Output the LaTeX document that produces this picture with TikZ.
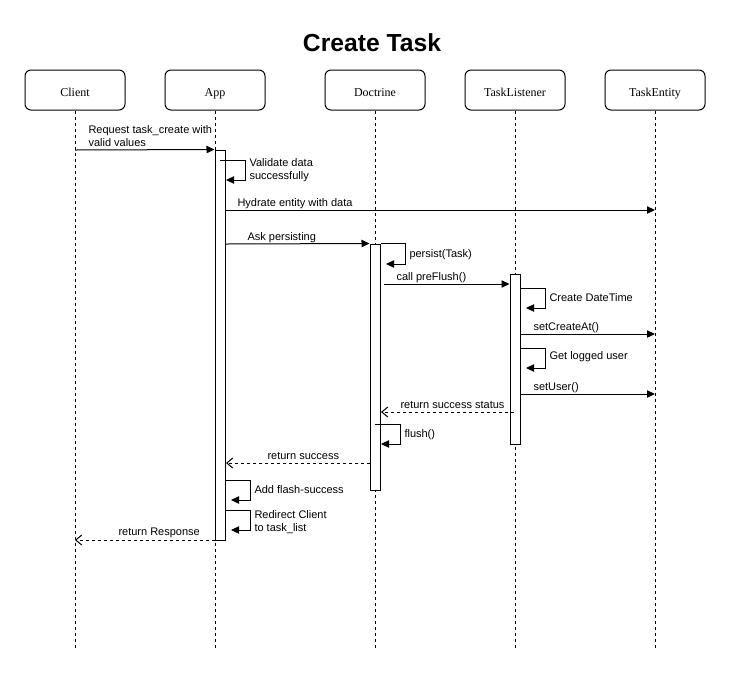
\documentclass[tikz,border=0pt]{standalone}
\usepackage{fontspec}
\setmainfont{Liberation Sans}
\newfontfamily\headfont{Liberation Serif}
\usetikzlibrary{arrows.meta}
\begin{document}
\begin{tikzpicture}[x=0.75pt,y=-0.75pt,line width=0.75pt,
  head/.style={draw,rounded corners=4.5pt,minimum width=75pt,minimum height=30pt,text height=9pt,text depth=0pt,font=\headfont\fontsize{9}{11}\selectfont},
  life/.style={dash pattern=on 2.25pt off 2.25pt},
  act/.style={draw,fill=white,minimum width=7.5pt,inner sep=0pt},
  msg/.style={-{Triangle[length=6pt,width=5.5pt]}},
  ret/.style={dash pattern=on 2.25pt off 2.25pt,-{Straight Barb[length=4.5pt,width=7.5pt]}},
  txt/.style={font=\fontsize{8.25}{9.75}\selectfont,inner sep=0pt,anchor=base west},
  txtb/.style={font=\fontsize{8.25}{9.75}\selectfont,inner sep=0pt,anchor=north west,align=left}]
\useasboundingbox (0,0) rectangle (731,676);
\node[font=\bfseries\fontsize{18.5}{22}\selectfont] (title) at (372,43) {Create Task};
\node[head] (client) at (75,90) {Client};
\node[head] (app) at (215,90) {App};
\node[head] (doctrine) at (375,90) {Doctrine};
\node[head] (listener) at (515,90) {TaskListener};
\node[head] (entity) at (655,90) {TaskEntity};
\coordinate (client end) at (75,648);
\coordinate (app end) at (215,648);
\coordinate (doctrine end) at (375,648);
\coordinate (listener end) at (515,648);
\coordinate (entity end) at (655,648);
\draw[life] (client) -- (client end);
\draw[life] (app) -- (app end);
\draw[life] (doctrine) -- (doctrine end);
\draw[life] (listener) -- (listener end);
\draw[life] (entity) -- (entity end);
\node[act,minimum height=292.5pt] (app act) at (220,345) {};
\node[act,minimum height=184.5pt] (doctrine act) at (375,367) {};
\node[act,minimum height=127.5pt] (listener act) at (515,359) {};

\coordinate (req a) at (75,150);
\draw[msg] (req a) -- (app act.north west);
\node[txtb] (req) at (88,125.5) {Request task\_create with\\valid values};
\coordinate (val a) at (220,160); \coordinate (val b) at (226,180);
\draw[msg] (val a) -- ++(25,0) |- (val b);
\node[txtb] (val) at (249,158) {Validate data\\successfully};
\coordinate (hyd a) at (225,210); \coordinate (hyd b) at (655,210);
\draw[msg] (hyd a) -- (hyd b);
\node[txt] (hyd) at (237,206) {Hydrate entity with data};
\coordinate (ask a) at (226,244);
\draw[msg] (ask a) -- (doctrine act.north west);
\node[txt] (ask) at (247,240) {Ask persisting};
\coordinate (per b) at (386,264);
\draw[msg] (doctrine act.north east) -- ++(25,0) |- (per b);
\node[txt] (per) at (409,257) {persist(Task)};
\coordinate (pre a) at (384,284);
\draw[msg] (pre a) -- (pre a -| listener act.west);
\node[txt] (pre) at (396,280) {call preFlush()};
\coordinate (dt a) at (520,288); \coordinate (dt b) at (526,308);
\draw[msg] (dt a) -- ++(25,0) |- (dt b);
\node[txt] (dt) at (549,301) {Create DateTime};
\coordinate (sca a) at (520,334); \coordinate (sca b) at (655,334);
\draw[msg] (sca a) -- (sca b);
\node[txt] (sca) at (533,330) {setCreateAt()};
\coordinate (usr a) at (520,348); \coordinate (usr b) at (526,368);
\draw[msg] (usr a) -- ++(25,0) |- (usr b);
\node[txt] (usr) at (549,359) {Get logged user};
\coordinate (su a) at (520,394); \coordinate (su b) at (655,394);
\draw[msg] (su a) -- (su b);
\node[txt] (su) at (533,390) {setUser()};
\coordinate (rs a) at (514,412); \coordinate (rs b) at (381,412);
\draw[ret] (rs a) -- (rs b);
\node[txt] (rs) at (400,408) {return success status};
\coordinate (fl a) at (375,424); \coordinate (fl b) at (381,444);
\draw[msg] (fl a) -- ++(25,0) |- (fl b);
\node[txt] (fl) at (404,437) {flush()};
\coordinate (ok a) at (370,463); \coordinate (ok b) at (226,463);
\draw[ret] (ok a) -- (ok b);
\node[txt] (ok) at (267,459) {return success};
\coordinate (fs a) at (225,480); \coordinate (fs b) at (231,500);
\draw[msg] (fs a) -- ++(25,0) |- (fs b);
\node[txt] (fs) at (254,493) {Add flash-success};
\coordinate (rd a) at (225,510); \coordinate (rd b) at (231,530);
\draw[msg] (rd a) -- ++(25,0) |- (rd b);
\node[txtb] (rd) at (254,510) {Redirect Client\\to task\_list};
\coordinate (resp a) at (215,540); \coordinate (resp b) at (75,540);
\draw[ret] (resp a) -- (resp b);
\node[txt] (resp) at (118,535) {return Response};
\end{tikzpicture}
\end{document}
